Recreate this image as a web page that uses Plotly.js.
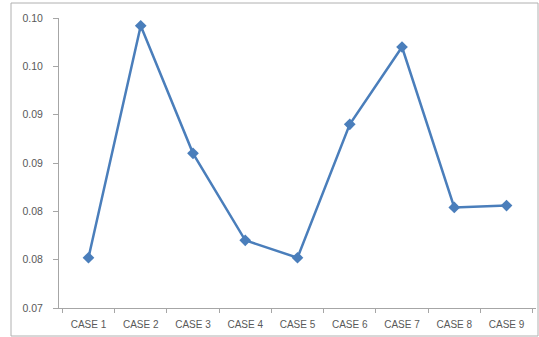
<!DOCTYPE html>
<html>
<head>
<meta charset="utf-8">
<script src="https://cdn.plot.ly/plotly-3.0.1.min.js"></script>
<style>html,body{margin:0;padding:0;background:#fff;}#chart{width:539px;height:337px;}</style>
</head>
<body>
<div id="chart"></div>
<script>
const categories = ["CASE 1","CASE 2","CASE 3","CASE 4","CASE 5","CASE 6","CASE 7","CASE 8","CASE 9"];
const values = [0.0752, 0.0992, 0.0860, 0.0770, 0.0752, 0.0890, 0.0970, 0.0804, 0.0806];
const yTickVals = [0.070, 0.075, 0.080, 0.085, 0.090, 0.095, 0.100];
const yTickText = ["0.07","0.08","0.08","0.09","0.09","0.10","0.10"];

const trace = {
  x: categories, y: values, type: "scatter", mode: "lines+markers",
  line: {color: "#4A7EBB", width: 2.5},
  marker: {symbol: "diamond", size: 9, color: "#4A7EBB"},
  hoverinfo: "skip"
};
const layout = {
  width: 539, height: 337,
  margin: {l: 59, r: 3, t: 18, b: 29},
  paper_bgcolor: "#ffffff", plot_bgcolor: "#ffffff",
  showlegend: false,
  font: {family: "Liberation Sans, Arial, sans-serif", size: 10, color: "#595959"},
  xaxis: {
    type: "category", showgrid: false, zeroline: false,
    showline: true, linecolor: "#a6a6a6", linewidth: 1,
    ticks: "outside", tickson: "boundaries", ticklen: 4, tickcolor: "#a6a6a6",
    ticklabelstandoff: 7,
    tickfont: {size: 10, color: "#595959"}
  },
  yaxis: {
    range: [0.07, 0.10], showgrid: false, zeroline: false,
    showline: true, linecolor: "#a6a6a6", linewidth: 1,
    ticks: "outside", ticklen: 5, tickcolor: "#a6a6a6",
    tickvals: yTickVals, ticktext: yTickText,
    ticklabelstandoff: 8,
    tickfont: {size: 10.5, color: "#595959"}
  },
  shapes: [{
    type: "rect", xref: "paper", yref: "paper",
    x0: -0.1006, x1: 1.0042, y0: -0.0966, y1: 1.0517,
    line: {color: "#b0b0b0", width: 1}, fillcolor: "rgba(0,0,0,0)", layer: "below"
  }]
};
Plotly.newPlot("chart", [trace], layout, {staticPlot: true, displayModeBar: false});
</script>
</body>
</html>
